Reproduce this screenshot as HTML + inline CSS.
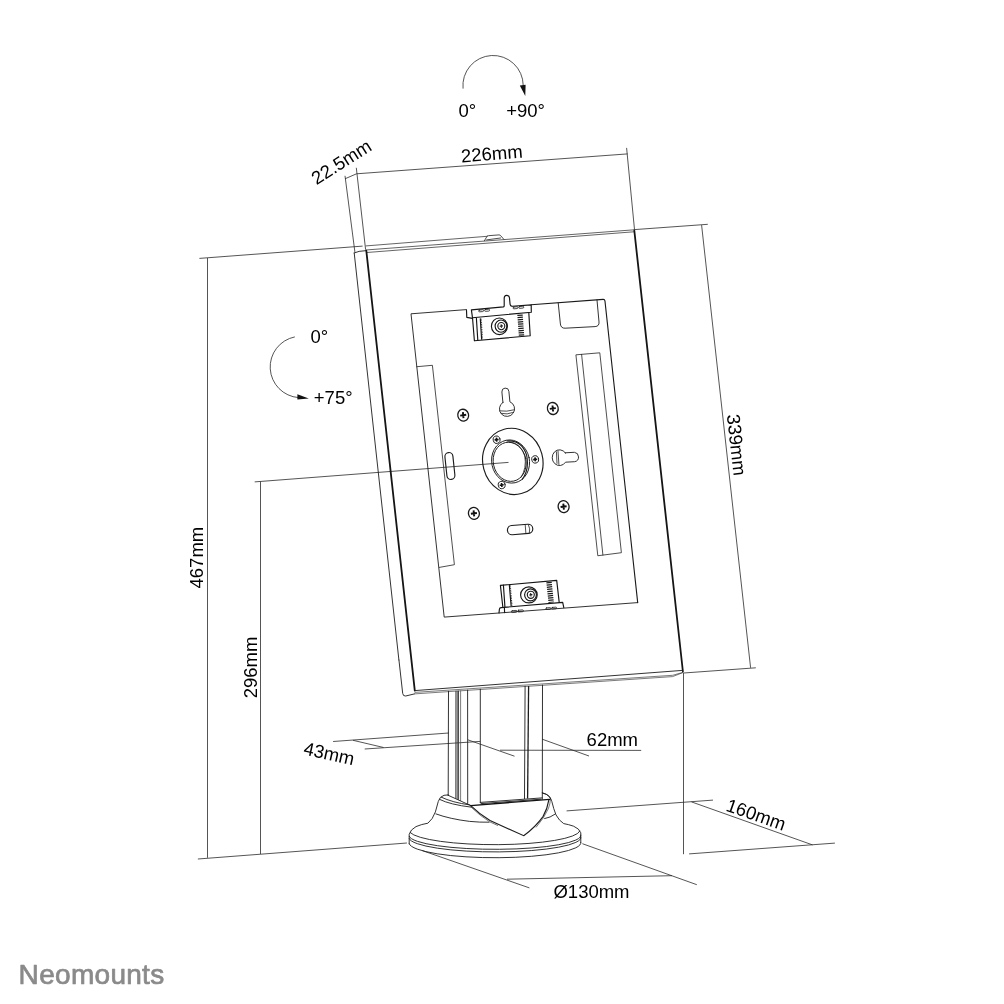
<!DOCTYPE html>
<html lang="en">
<head>
<meta charset="utf-8">
<title>Neomounts tablet stand – dimensions</title>
<style>
html,body{margin:0;padding:0;background:#fff;}
body{width:1004px;height:1004px;overflow:hidden;}
svg{display:block;will-change:transform;}
.m{fill:none;stroke:#1c1c1c;stroke-width:0.9;stroke-linecap:round;stroke-linejoin:round;}
.h{fill:none;stroke:#151515;stroke-width:1.8;stroke-linecap:round;}
.h2{fill:none;stroke:#111;stroke-width:1.4;stroke-linecap:round;stroke-linejoin:round;}
.d{fill:none;stroke:#2a2a2a;stroke-width:0.8;}
.ar{fill:#111;stroke:none;}
#clamps .m{stroke-width:1.15;stroke:#151515;}
.r{fill:none;stroke:#1a1a1a;stroke-width:1.1;stroke-linecap:round;stroke-linejoin:round;}
.t7{fill:none;stroke:#222;stroke-width:0.7;stroke-linecap:round;stroke-linejoin:round;}
.t8{fill:none;stroke:#222;stroke-width:0.8;stroke-linecap:round;stroke-linejoin:round;}
.s{fill:none;stroke:#222;stroke-width:0.6;stroke-linejoin:round;}
.c1{fill:none;stroke:#1c1c1c;stroke-width:1.3;}
.c2{fill:none;stroke:#333;stroke-width:0.9;}
.c3{fill:none;stroke:#444;stroke-width:0.7;}
.pl{fill:none;stroke:#111;stroke-width:1.9;stroke-linecap:butt;}
.pl4{fill:none;stroke:#111;stroke-width:1.6;stroke-linecap:butt;}
.sc{fill:none;stroke:#1a1a1a;stroke-width:1.3;}
.pl3{fill:none;stroke:#111;stroke-width:1.1;stroke-linecap:butt;}
.m2{fill:none;stroke:#1c1c1c;stroke-width:1.15;}
.pl2{fill:none;stroke:#222;stroke-width:0.8;stroke-linecap:round;}
.ser{fill:none;stroke:#222;stroke-width:1.3;stroke-dasharray:0.8 0.9;}
.coil{fill:none;stroke:#1a1a1a;stroke-width:5.4;stroke-dasharray:1.25 0.95;}
.t{font-family:"Liberation Sans",Arial,sans-serif;font-size:18.5px;fill:#000;}
.logo{font-family:"Liberation Sans",Arial,sans-serif;font-size:28px;font-weight:normal;fill:#8a8a8a;stroke:#8a8a8a;stroke-width:0.7;stroke-linejoin:round;}
</style>
</head>
<body>
<svg width="1004" height="1004" viewBox="0 0 1004 1004">
<rect x="0" y="0" width="1004" height="1004" fill="#ffffff"/>
<g id="dims">
<line class="d" x1="345.0" y1="175.8" x2="354.9" y2="252.0"/>
<line class="d" x1="356.3" y1="167.8" x2="365.6" y2="249.6"/>
<line class="d" x1="345.0" y1="178.8" x2="356.5" y2="173.8"/>
<line class="d" x1="356.5" y1="173.8" x2="627.6" y2="153.9"/>
<line class="d" x1="626.6" y1="147.9" x2="634.5" y2="229.6"/>
<line class="d" x1="199.4" y1="258.4" x2="362.6" y2="246.1"/>
<line class="d" x1="634.5" y1="229.6" x2="707.8" y2="224.3"/>
<line class="d" x1="701.6" y1="225.1" x2="750.6" y2="667.8"/>
<line class="d" x1="683.7" y1="673.0" x2="755.8" y2="667.8"/>
<line class="d" x1="207.5" y1="258.0" x2="207.5" y2="857.8"/>
<line class="d" x1="260.5" y1="481.6" x2="260.5" y2="854.0"/>
<line class="d" x1="254.7" y1="481.9" x2="508.5" y2="462.4"/>
<line class="d" x1="197.9" y1="859.0" x2="406.9" y2="843.0"/>
<line class="d" x1="333.1" y1="741.5" x2="448.7" y2="733.0"/>
<line class="d" x1="364.7" y1="749.0" x2="480.2" y2="741.4"/>
<line class="d" x1="353.0" y1="740.3" x2="383.6" y2="747.5"/>
<line class="d" x1="467.8" y1="739.8" x2="514.5" y2="756.2"/>
<line class="d" x1="542.2" y1="739.2" x2="589.0" y2="756.0"/>
<line class="d" x1="500.0" y1="750.2" x2="641.2" y2="750.4"/>
<line class="d" x1="683.5" y1="672.6" x2="683.5" y2="854.2"/>
<line class="d" x1="566.6" y1="810.9" x2="713.0" y2="800.1"/>
<line class="d" x1="689.1" y1="853.9" x2="834.9" y2="843.1"/>
<line class="d" x1="691.5" y1="801.9" x2="812.5" y2="844.9"/>
<line class="d" x1="422.3" y1="850.6" x2="529.4" y2="887.9"/>
<line class="d" x1="582.4" y1="843.7" x2="696.8" y2="884.7"/>
<line class="d" x1="507.0" y1="879.2" x2="672.0" y2="875.7"/>
<path class="d" d="M463.05,88.6 A30.15,30.15 0 1 1 523.2,85.2"/>
<path class="ar" d="M519.8,85.6 L525.6,84.8 L525.3,96.0 Z"/>
<path class="d" d="M294.8,336.9 A30.7,30.7 0 0 0 298.5,397.6"/>
<path class="ar" d="M297.4,394.3 L308.8,398.6 L297.4,399.6 Z"/>
</g>
<g id="frame">
<line class="t7" x1="366.1" y1="245.9" x2="487.2" y2="236.3"/>
<line class="t7" x1="365.8" y1="250.0" x2="634.2" y2="229.8"/>
<line class="t7" x1="367.0" y1="252.5" x2="633.8" y2="231.8"/>
<path class="t8" d="M484.4,240.8 L487.0,236.3 Q487.4,235.8 488.4,235.7 L499.0,234.9 Q500.2,234.9 500.8,235.8 L503.9,239.4 M486.6,239.9 L500.6,238.0"/>
<path class="m" d="M354.2,252.9 Q358,250.9 366.3,250.6"/>
<line class="m" x1="354.2" y1="252.9" x2="398.9" y2="660.0"/>
<line class="h" x1="366.3" y1="250.6" x2="414.8" y2="690.6"/>
<line class="h" x1="634.3" y1="230.5" x2="682.9" y2="671.5"/>
<line class="m" x1="414.8" y1="690.6" x2="682.4" y2="670.4"/>
<path class="s" d="M414.6,692.4 L672.6,675.3 L682.9,672.4"/>
<path class="m" d="M398.95,660.0 L402.7,693.4 Q403.1,696.4 405.7,696.0 L414.5,693.9"/>
<path class="s" d="M414.5,693.9 L672.6,676.6 L682.9,672.6"/>
</g>
<g id="recess">
<path class="m" d="M466.5,309.6 L411.0,313.8 L444.2,617.1 L637.7,602.6"/>
<path class="r" d="M637.7,602.6 L604.95,300.90000000000003 Q604.7,299.3 603.1,299.40000000000003 L531.2,304.8"/>
<path class="m" d="M558.2,302.9 L560.4,324.0 Q560.9,328.4 565.1,328.2 L595.1,326.6 Q599.4,326.3 599.0,321.9 L597.0,300.0"/>
<path class="t8" d="M576.3,354.8 L599.8,352.8 L621.4,552.7 L598.2,555.7 Z"/>
<path class="t8" d="M581.6,354.4 L602.9,555.0"/>
<path class="t8" d="M416.8,366.7 L432.4,365.3 L454.4,564.7 L439.3,567.4"/>
</g>
<g id="plate">
<ellipse class="m2" cx="512.8" cy="461.4" rx="30.0" ry="33.3" transform="rotate(-15 512.8 461.4)"/>
<ellipse class="m" cx="510.6" cy="461.5" rx="18.9" ry="21.7" transform="rotate(-12 510.6 461.5)"/>
<ellipse class="m" cx="509.7" cy="461.8" rx="16.4" ry="19.7" transform="rotate(-12 509.7 461.8)"/>
<path class="m2" d="M506.6,441.0 Q521.6,439.6 526.6,455.0 Q529.6,469.6 522.0,479.6"/>
<path class="pl2" d="M509.0,441.9 Q520.6,442.4 524.8,456.0 Q526.9,468.0 521.0,477.4"/>
<ellipse class="m" cx="496.6" cy="439.7" rx="3.4" ry="3.7" transform="rotate(-15 496.6 439.7)"/>
<path class="pl4" d="M494.6,439.9 L498.6,439.5 M496.4,437.7 L496.8,441.7"/>
<ellipse class="m" cx="535.2" cy="459.4" rx="3.4" ry="3.7" transform="rotate(-15 535.2 459.4)"/>
<path class="pl4" d="M533.2,459.6 L537.2,459.2 M535.0,457.4 L535.4,461.4"/>
<ellipse class="m" cx="501.7" cy="485.0" rx="3.4" ry="3.7" transform="rotate(-15 501.7 485.0)"/>
<path class="pl4" d="M499.7,485.2 L503.7,484.8 M501.5,483.0 L501.9,487.0"/>
<ellipse class="sc" cx="463.2" cy="415.2" rx="5.4" ry="6.0" transform="rotate(-15 463.2 415.2)"/>
<path class="pl" d="M460.2,415.6 L466.2,414.8 M462.9,412.2 L463.5,418.2"/>
<ellipse class="sc" cx="552.8" cy="408.5" rx="5.4" ry="6.0" transform="rotate(-15 552.8 408.5)"/>
<path class="pl" d="M549.8,408.9 L555.8,408.1 M552.5,405.5 L553.1,411.5"/>
<ellipse class="sc" cx="473.9" cy="513.4" rx="5.4" ry="6.0" transform="rotate(-15 473.9 513.4)"/>
<path class="pl" d="M470.9,513.8 L476.9,513.0 M473.6,510.4 L474.2,516.4"/>
<ellipse class="sc" cx="563.6" cy="506.6" rx="5.4" ry="6.0" transform="rotate(-15 563.6 506.6)"/>
<path class="pl" d="M560.6,507.0 L566.6,506.2 M563.3,503.6 L563.9,509.6"/>
<path class="m" d="M502.9,402.4 L501.9,392.0 A3.5,3.6 0 0 1 508.9,391.4 L509.9,401.8 A7.6,7.6 0 1 1 502.9,402.4 Z"/>
<path class="pl2" d="M499.9,410.9 Q506.8,412.0 513.6,409.9 M501.4,413.4 Q507.2,414.9 512.6,412.6"/>
<path class="m" d="M565.3,452.8 L574.4,452.3 A4.7,4.75 0 0 1 574.6,461.7 L565.5,462.2 A7.3,7.9 0 1 1 565.3,452.8 Z"/>
<path class="pl2" d="M556.4,451.8 L557.0,463.4 M558.0,451.0 L558.9,464.4"/>
<rect class="m2" x="445.9" y="452.5" width="8.0" height="27" rx="4" transform="rotate(-6 449.9 466)"/>
<rect class="m2" x="507.4" y="524.9" width="25.4" height="9.2" rx="4.6" transform="rotate(-4.5 520 529.5)"/>
<path class="pl2" d="M525.2,524.6 L525.9,533.6"/>
<path class="pl2" d="M528.4,524.6 Q530.6,528.8 529.4,533.2"/>
</g>
<g id="clamps">
<path class="m" d="M471.4,309.9 L503.4,306.9 Q504.3,306.6 504.2,305.4 L504.2,298.1 A2.65,2.75 0 0 1 509.45,297.6 L510.1,304.4 Q510.3,306.3 512.3,306.3 L531.2,304.9 L531.3,312.2 L472.5,317.8 Z"/>
<path class="m" d="M466.5,310.4 L466.8,317.4 L472.4,318.4"/>
<path class="m" d="M472.5,317.8 L474.4,340.8 L530.2,335.8 L528.8,312.6"/>
<path class="m" d="M476.4,318.2 L477.8,340.2"/>
<path class="m" d="M480.3,318.8 L481.6,339.2"/>
<path class="ser" d="M481.1,318.8 L482.4,339.2"/>
<path class="coil" d="M520.0,314.6 L521.6,336.6"/>
<ellipse class="m" cx="499.4" cy="326.3" rx="8.0" ry="8.3"/>
<ellipse class="m" cx="501.0" cy="326.1" rx="5.9" ry="6.1"/>
<ellipse class="m2" cx="501.3" cy="326.1" rx="3.5" ry="3.6"/>
<path class="pl3" d="M499.7,326.3 L502.9,325.9 M501.1,324.4 L501.5,327.8"/>
<rect class="pl2" x="478.6" y="309.9" width="5" height="1.8" rx="0.9" transform="rotate(-5 481 310.8)"/>
<rect class="pl2" x="484.6" y="309.4" width="5" height="1.8" rx="0.9" transform="rotate(-5 487 310.3)"/>
<rect class="pl2" x="513.0" y="306.9" width="5" height="1.8" rx="0.9" transform="rotate(-5 515.5 307.8)"/>
<rect class="pl2" x="518.8" y="306.4" width="5" height="1.8" rx="0.9" transform="rotate(-5 521.3 307.3)"/>
<path class="m" d="M502.8,606.8 L500.4,585.4 L556.7,580.4 L559.2,602.4"/>
<path class="m" d="M503.4,585.0 L504.9,606.6"/>
<path class="m" d="M509.3,584.8 L511.1,605.6"/>
<path class="ser" d="M510.1,584.8 L511.9,605.6"/>
<path class="coil" d="M549.0,582.0 L551.2,602.6"/>
<path class="m" d="M499.0,612.9 L499.4,609.2 Q499.6,607.7 501.2,607.6 L562.7,602.4 L563.8,607.7"/>
<path class="m" d="M504.4,607.4 L504.6,612.6"/>
<ellipse class="m" cx="528.9" cy="594.9" rx="8.3" ry="8.0"/>
<ellipse class="m" cx="530.5" cy="594.8" rx="5.9" ry="6.0"/>
<ellipse class="m2" cx="530.8" cy="594.8" rx="3.5" ry="3.6"/>
<path class="pl3" d="M529.2,595.0 L532.4,594.6 M530.6,593.1 L531.0,596.5"/>
<rect class="pl2" x="511.4" y="610.6" width="5.6" height="1.8" rx="0.9" transform="rotate(-5 514 611.5)"/>
<rect class="pl2" x="517.8" y="610.1" width="5.6" height="1.8" rx="0.9" transform="rotate(-5 520 611)"/>
<rect class="pl2" x="545.8" y="607.8" width="5" height="1.6" rx="0.8" transform="rotate(-5 548 608.6)"/>
<rect class="pl2" x="551.6" y="607.3" width="5" height="1.6" rx="0.8" transform="rotate(-5 554 608.1)"/>
</g>
<g id="column">
<line class="m" x1="448.5" y1="691.3" x2="448.2" y2="795.6"/>
<line class="c2" x1="455.9" y1="690.8" x2="455.8" y2="798.6"/>
<line class="c2" x1="457.2" y1="690.8" x2="457.2" y2="799.2"/>
<line class="c2" x1="458.5" y1="690.7" x2="458.6" y2="799.8"/>
<line class="c3" x1="460.6" y1="690.5" x2="460.6" y2="801.0"/>
<line class="m" x1="467.6" y1="690.1" x2="467.7" y2="804.0"/>
<line class="m" x1="480.3" y1="689.2" x2="480.3" y2="802.6"/>
<line class="m" x1="525.1" y1="686.2" x2="524.5" y2="798.6"/>
<line class="c1" x1="528.6" y1="686.0" x2="527.6" y2="798.4"/>
<line class="m" x1="542.5" y1="685.1" x2="542.3" y2="799.2"/>
<path class="m" d="M448.0,795.2 L470.7,805.6"/>
<path class="h2" d="M470.7,805.6 L549.6,799.4"/>
<path class="m" d="M480.3,802.4 L542.0,797.9"/>
<path class="m" d="M481.0,803.6 L541.0,799.2"/>
</g>
<g id="base">
<path class="m" d="M409.2,843.8 L409.2,834.3 Q410.4,829.6 416.0,826.6 Q421.6,824.2 427.9,823.2 Q432.6,819.6 435.4,811.9 L438.3,801.4 Q439.6,796.6 444.0,795.3 L448.2,794.9"/>
<path class="m" d="M580.8,842.4 L580.8,832.8 Q579.4,828.6 573.6,826.2 Q568.4,824.4 563.7,823.6 Q559.0,820.6 556.0,814.9 Q553.6,809.0 551.8,801.4 Q550.4,796.6 546.6,794.5 L542.3,792.9"/>
<path class="m" d="M410.2,832.6 A85.4,14.3 0 0 0 579.8,831.2"/>
<path class="m" d="M409.2,836.4 A85.8,13.6 0 0 0 580.8,835.0"/>
<path class="m" d="M409.2,838.6 A85.8,14.0 0 0 0 580.8,837.2"/>
<path class="m" d="M409.2,843.8 A85.8,14.6 0 0 0 580.8,842.4"/>
<path class="m" d="M441.3,797.2 Q452.0,802.4 470.0,805.0"/>
<path class="m" d="M439.6,799.4 Q449.8,804.6 471.6,807.2"/>
<path class="m" d="M435.9,813.9 Q449.8,819.0 469.7,821.4 Q480.0,822.4 489.0,822.2"/>
<path class="m" d="M544.6,818.6 Q550.4,817.6 555.0,814.2"/>
<path class="m2" d="M470.7,805.6 Q480.0,814.6 490.0,820.6 L523.7,835.7 Q535.2,827.4 543.0,816.6 Q547.6,808.4 548.9,799.6"/>
<path class="s" d="M471.6,807.6 Q480.0,815.8 489.6,821.8 L498.0,825.6"/>
<path class="s" d="M536.0,827.4 Q544.6,817.6 548.4,808.6 Q550.2,803.6 550.4,799.6"/>
<path class="m" d="M542.3,792.9 Q549.6,794.4 551.0,799.2"/>
</g>
<g id="labels">
<text class="t" x="458.4" y="117.3" text-anchor="start">0°</text>
<text class="t" x="506.2" y="117.3" text-anchor="start">+90°</text>
<text class="t" x="310.4" y="342.7" text-anchor="start">0°</text>
<text class="t" x="313.8" y="404.0" text-anchor="start">+75°</text>
<text class="t" x="492.3" y="160.0" text-anchor="middle" transform="rotate(-4.5 492.3 160.0)">226mm</text>
<text class="t" x="344.8" y="167.4" text-anchor="middle" transform="rotate(-32.5 344.8 167.4)">22.5mm</text>
<text class="t" x="730.2" y="445.6" text-anchor="middle" transform="rotate(83.5 730.2 445.6)">339mm</text>
<text class="t" x="202.6" y="557.6" text-anchor="middle" transform="rotate(-90 202.6 557.6)">467mm</text>
<text class="t" x="257.0" y="667.5" text-anchor="middle" transform="rotate(-90 257.0 667.5)">296mm</text>
<text class="t" x="327.8" y="759.8" text-anchor="middle" transform="rotate(12.6 327.8 759.8)">43mm</text>
<text class="t" x="612.3" y="746.3" text-anchor="middle">62mm</text>
<text class="t" x="754.0" y="820.6" text-anchor="middle" transform="rotate(19.3 754.0 820.6)">160mm</text>
<text class="t" x="591.5" y="897.6" text-anchor="middle">Ø130mm</text>
<text class="logo" x="18.6" y="984.0" text-anchor="start" textLength="145.6" lengthAdjust="spacing">Neomounts</text>
</g>
</svg>
</body>
</html>
